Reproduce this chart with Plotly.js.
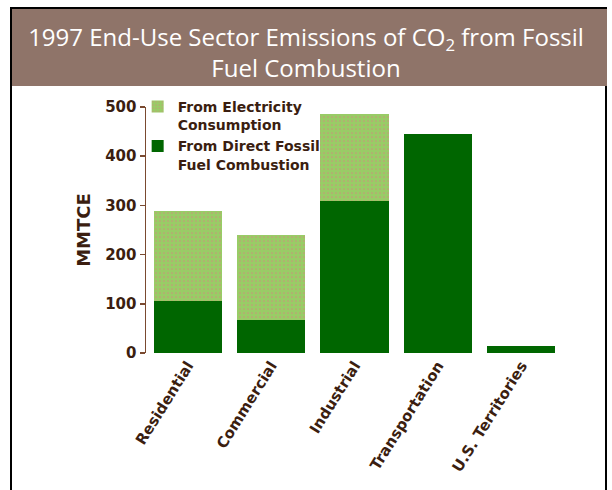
<!DOCTYPE html>
<html>
<head>
<meta charset="utf-8">
<script src="https://cdn.plot.ly/plotly-3.0.1.min.js"></script>
<style>
  html, body { margin: 0; padding: 0; background: #ffffff; }
  #wrap { position: relative; width: 612px; height: 490px; overflow: hidden; }
  #frame { position: absolute; left: 10px; top: 7px; width: 597px; height: 490px;
           border-left: 2px solid #000; border-right: 2px solid #000; border-top: 2px solid #000; box-sizing: border-box; }
  #band { position: absolute; left: 12px; top: 9px; width: 595px; height: 77px; background: #8f7469; }
  #chart { position: absolute; left: 0; top: 0; width: 612px; height: 490px; }
</style>
</head>
<body>
<div id="wrap">
  <div id="frame"></div>
  <div id="band"></div>
  <div id="chart"></div>
</div>
<script>
const categories = ["Residential", "Commercial", "Industrial", "Transportation", "U.S. Territories"];
const directFossil = [105, 67, 309, 446, 14];
const electricity = [183, 172, 176, 0, 0];
const yTicks = [0, 100, 200, 300, 400, 500];

const textColor = "#3b1e10";
const tickFont = { family: "DejaVu Sans", size: 15, color: textColor, weight: "bold" };

const traces = [
  {
    type: "bar",
    name: "From Direct Fossil<br>Fuel Combustion",
    x: categories,
    y: directFossil,
    marker: { color: "#006600", line: { width: 0 } },
    hoverinfo: "x+y"
  },
  {
    type: "bar",
    name: "From Electricity<br>Consumption",
    x: categories,
    y: electricity,
    marker: {
      color: "#99cc66",
      line: { width: 0 },
      pattern: { shape: ".", fgcolor: "#c49a78", bgcolor: "#99cc66", size: 4, solidity: 0.15 }
    },
    hoverinfo: "x+y"
  }
];

const layout = {
  width: 612,
  height: 490,
  barmode: "stack",
  bargap: 0.18,
  paper_bgcolor: "rgba(0,0,0,0)",
  plot_bgcolor: "rgba(0,0,0,0)",
  margin: { l: 146, r: 49, t: 107, b: 137, pad: 0 },
  showlegend: true,
  legend: {
    x: -0.02, y: 1.065, xanchor: "left", yanchor: "top",
    bgcolor: "rgba(0,0,0,0)",
    font: { family: "DejaVu Sans", size: 14, color: textColor, weight: "bold" },
    valign: "top",
    itemwidth: 30,
    tracegroupgap: 0
  },
  title: {
    text: "1997 End-Use Sector Emissions of CO<sub>2</sub> from Fossil<br>Fuel Combustion",
    font: { family: "Open Sans", size: 24, color: "#ffffff" },
    x: 0.5, xref: "container", xanchor: "center",
    y: 1 - 46 / 490, yref: "container", yanchor: "middle"
  },
  xaxis: {
    type: "category",
    showline: false,
    showgrid: false,
    zeroline: false,
    ticks: "",
    tickangle: -58,
    tickfont: { family: "DejaVu Sans", size: 15, color: textColor, weight: "bold" },
    fixedrange: true
  },
  yaxis: {
    range: [0, 500],
    tickvals: yTicks,
    ticktext: yTicks.map(String),
    showline: true,
    linecolor: "#7a4a30",
    linewidth: 1.5,
    ticks: "outside",
    ticklen: 5,
    tickcolor: "#7a4a30",
    tickwidth: 1.5,
    showgrid: false,
    zeroline: false,
    tickfont: tickFont,
    title: { text: "MMTCE", font: { family: "DejaVu Sans", size: 18, color: textColor, weight: "bold" }, standoff: 10 },
    fixedrange: true
  }
};

Plotly.newPlot("chart", traces, layout, { displayModeBar: false, staticPlot: true });
</script>
</body>
</html>
